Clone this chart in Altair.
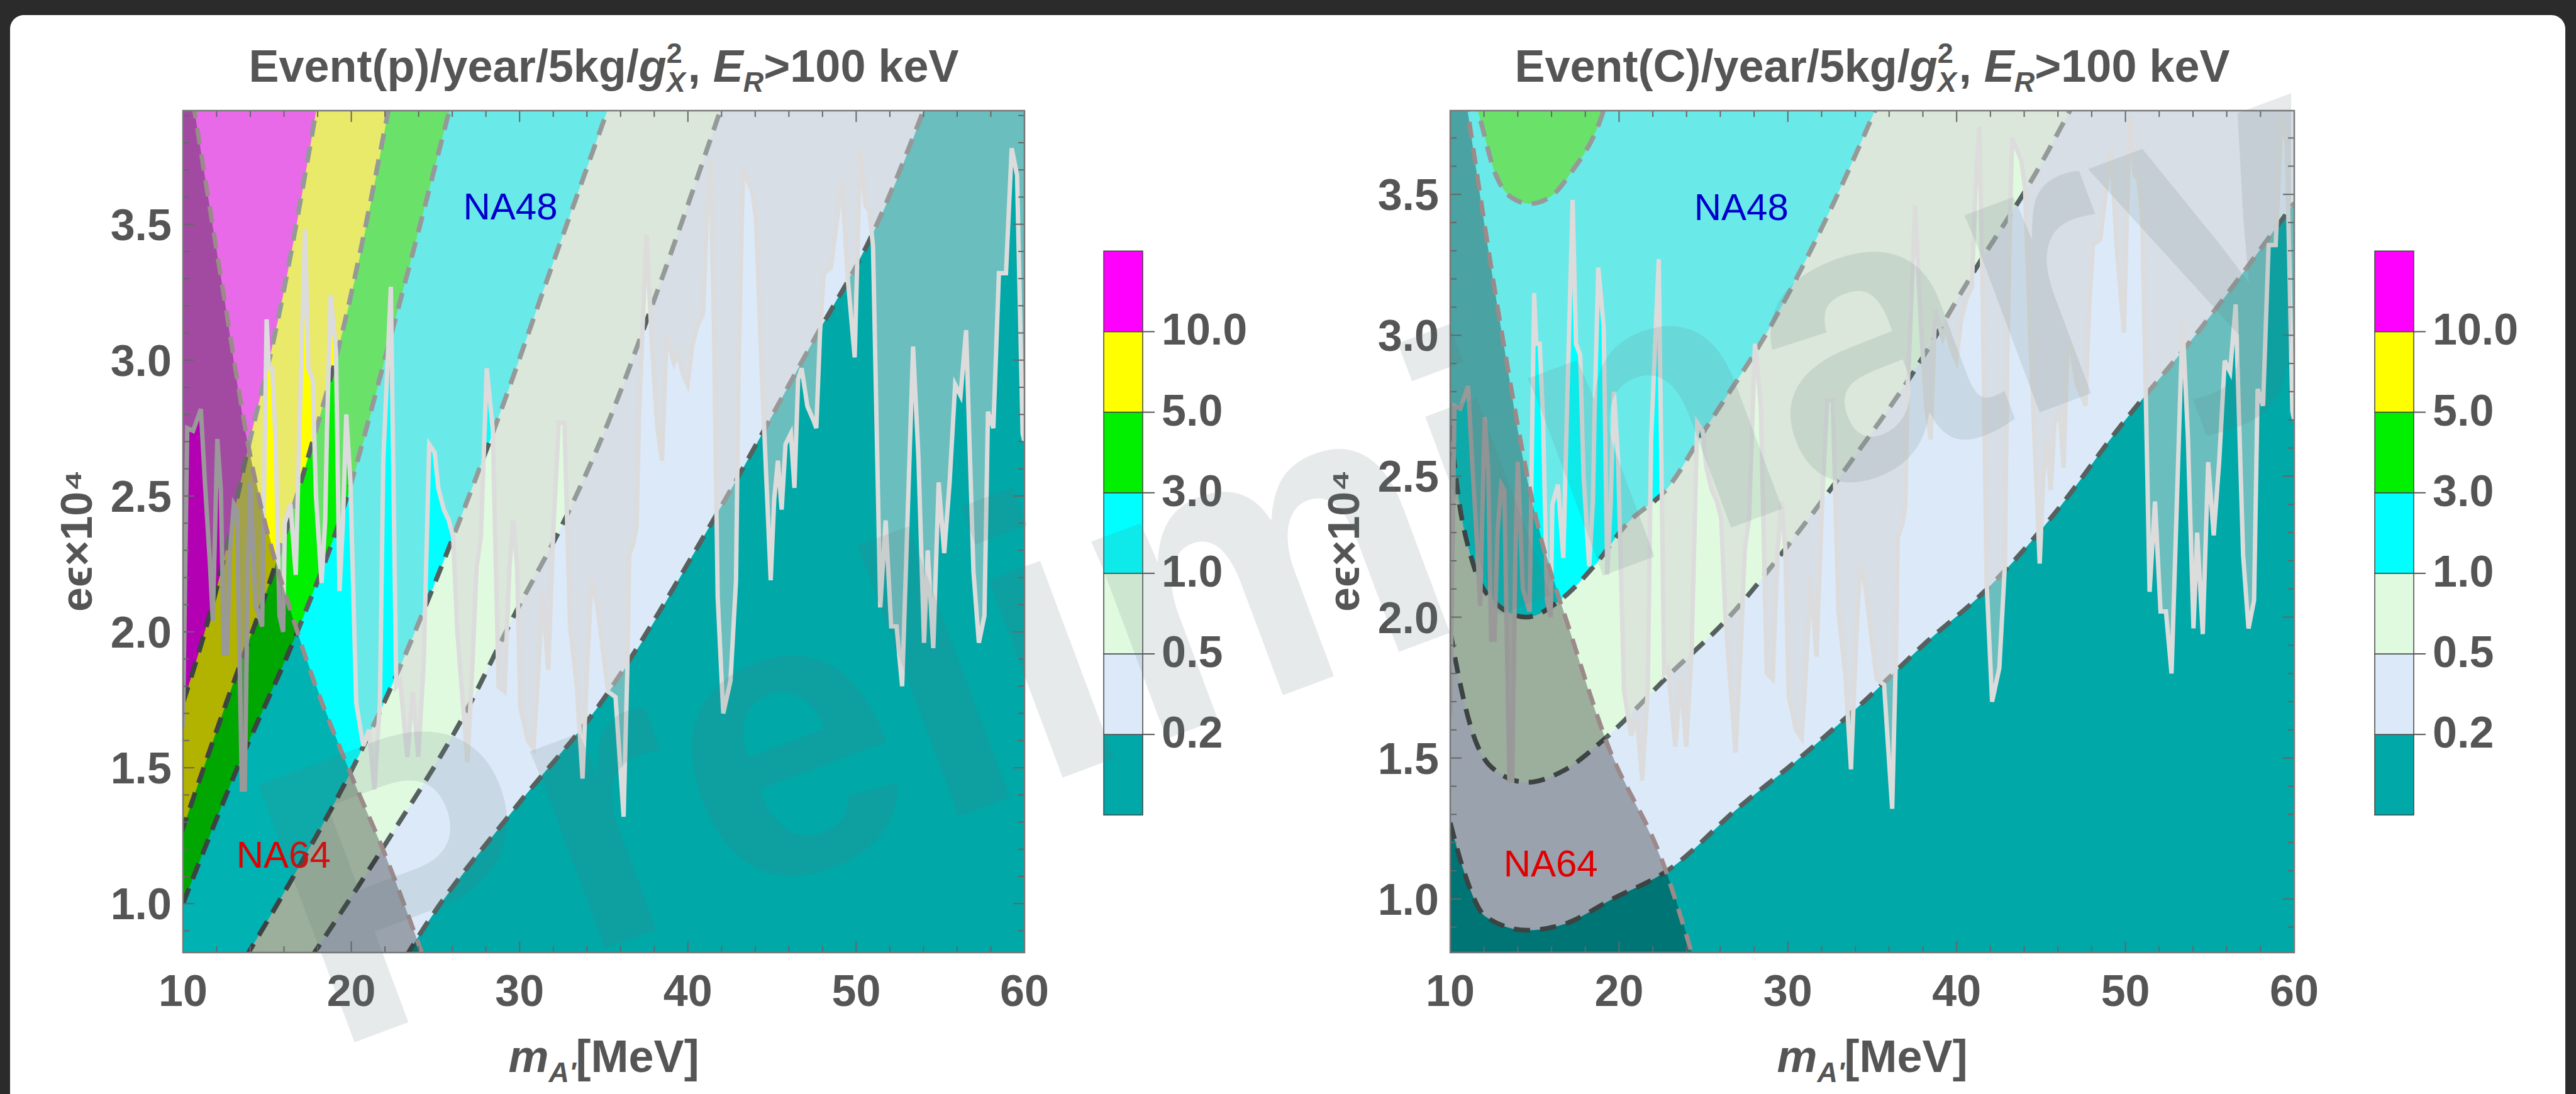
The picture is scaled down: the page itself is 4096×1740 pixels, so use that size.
import altair as alt
import pandas as pd

FONT = "Liberation Sans"
TXT = "#555555"
TICK = "#666666"
CONTOUR = "#56605F"

# ---------------- axes ----------------
X_RANGE = [10, 60]
Y_RANGE_P = [0.82, 3.918]
Y_RANGE_C = [0.81, 3.797]
X_MAJOR = [10, 20, 30, 40, 50, 60]
X_LABELS = ["10", "20", "30", "40", "50", "60"]
X_MINOR = [12, 14, 16, 18, 22, 24, 26, 28, 32, 34, 36, 38, 42, 44, 46, 48, 52, 54, 56, 58]
Y_MAJOR = [1.0, 1.5, 2.0, 2.5, 3.0, 3.5]
Y_LABELS = ["1.0", "1.5", "2.0", "2.5", "3.0", "3.5"]
Y_MINOR = [0.9, 1.1, 1.2, 1.3, 1.4, 1.6, 1.7, 1.8, 1.9, 2.1, 2.2, 2.3, 2.4,
           2.6, 2.7, 2.8, 2.9, 3.1, 3.2, 3.3, 3.4, 3.6, 3.7, 3.8, 3.9]

# ---------------- colour bar ----------------
LEVEL_LABELS = ["0.2", "0.5", "1.0", "3.0", "5.0", "10.0"]
LEVEL_POS = [1, 2, 3, 4, 5, 6]
BAND_INDEX = [0, 1, 2, 3, 4, 5, 6]
BAND_COLORS = ["#00A8A8", "#DCE9F8", "#E0FAE0", "#00FFFF", "#00F000", "#FFFF00", "#FF00FF"]

# ---------------- Event(p): contour lines (x = m_A' [MeV], y = e eps x 1e4) ----------------
P_C02 = [(23.2, 0.80), (24.08, 0.888), (29.84, 1.36), (34.61, 1.72), (41.12, 2.37),
         (47.63, 3.09), (50.78, 3.44), (54.2, 3.95)]
P_C05 = [(17.6, 0.80), (22.24, 1.24), (26.58, 1.68), (29.84, 2.08), (32.66, 2.41),
         (35.26, 2.77), (37.87, 3.20), (42.1, 3.95)]
P_C1 = [(13.7, 0.80), (16.93, 1.14), (19.93, 1.48), (22.24, 1.78), (25.93, 2.33),
        (28.75, 2.79), (32.0, 3.36), (35.4, 3.95)]
P_C3 = [(10.0, 1.00), (13.1, 1.48), (16.92, 2.02), (19.2, 2.39), (22.57, 3.14), (25.95, 3.95)]
P_C5 = [(9.9, 1.26), (12.58, 1.74), (15.3, 2.21), (17.47, 2.65), (19.42, 3.09), (22.3, 3.95)]
P_C10 = [(10.0, 1.74), (10.52, 1.84), (12.04, 2.17), (13.99, 2.71), (15.3, 3.05), (18.0, 3.95)]
P_NA64 = [(10.6, 3.95), (12.37, 3.26), (13.99, 2.65), (16.93, 1.974), (19.93, 1.482),
          (21.98, 1.184), (24.3, 0.80)]
P_LABEL_NA48 = (29.45, 3.56)
P_LABEL_NA64 = (15.97, 1.175)

# ---------------- Event(C): contour lines ----------------
C_C02 = [(10.0, 1.27), (10.8, 1.10), (12.1, 0.937), (14.52, 0.889), (16.76, 0.911),
         (19.55, 0.998), (22.97, 1.105), (27.0, 1.32), (30.5, 1.49), (34.5, 1.70),
         (38.0, 1.90), (41.8, 2.10), (45.7, 2.36), (49.6, 2.67), (54.4, 3.02), (60.0, 3.47)]
C_C05 = [(10.0, 1.95), (10.43, 1.81), (11.17, 1.62), (12.47, 1.466), (14.52, 1.414),
         (16.76, 1.457), (19.18, 1.57), (22.97, 1.795), (26.59, 2.005), (30.21, 2.27),
         (33.83, 2.56), (37.45, 2.87), (41.06, 3.23), (44.68, 3.575), (47.0, 3.83)]
C_C1 = [(10.0, 2.68), (10.5, 2.42), (11.3, 2.20), (12.5, 2.06), (14.5, 2.00), (16.5, 2.06),
        (18.5, 2.18), (20.45, 2.33), (22.9, 2.46), (25.14, 2.67), (29.05, 3.04),
        (32.0, 3.38), (35.4, 3.83)]
C_C3 = [(11.3, 3.85), (11.62, 3.797), (12.66, 3.575), (13.6, 3.49), (14.7, 3.467),
        (15.9, 3.49), (17.13, 3.575), (19.08, 3.797), (19.3, 3.84)]
C_NA64 = [(10.9, 3.85), (13.05, 3.01), (15.09, 2.35), (17.2, 1.93), (19.18, 1.57),
          (22.71, 1.11), (24.45, 0.78)]
C_LABEL_NA48 = (27.24, 3.45)
C_LABEL_NA64 = (15.95, 1.12)

# ---------------- NA48 limit (same curve in both panels) ----------------
NA48 = [(10.0, 1.65), (10.25, 2.75), (10.6, 2.74), (11.06, 2.82), (11.3, 2.55), (11.6, 2.25),
        (11.77, 2.04), (12.04, 2.71), (12.25, 2.52), (12.42, 1.92), (12.62, 1.92), (12.8, 2.30),
        (13.02, 2.47), (13.2, 2.45), (13.5, 1.42), (13.67, 1.42), (13.85, 2.20), (14.0, 2.55),
        (14.3, 2.10), (14.7, 2.02), (14.97, 3.15), (15.1, 2.97), (15.3, 2.97), (15.5, 2.70),
        (15.73, 2.06), (15.95, 2.00), (16.05, 2.40), (16.38, 2.47), (16.7, 2.21), (16.9, 2.70),
        (17.25, 3.48), (17.45, 2.97), (17.7, 2.93), (17.9, 2.50), (18.23, 2.18), (18.45, 2.41),
        (18.55, 2.73), (18.77, 3.24), (19.09, 3.03), (19.3, 2.15), (19.5, 2.40), (19.7, 2.80),
        (19.95, 2.55), (20.29, 1.74), (20.5, 1.66), (20.72, 1.58), (21.05, 1.64), (21.37, 1.42),
        (21.7, 1.74), (21.9, 2.63), (22.35, 3.27), (22.67, 1.80), (22.9, 1.82), (23.33, 1.54),
        (23.65, 1.78), (23.98, 1.54), (24.3, 1.88), (24.63, 2.69), (24.95, 2.66), (25.17, 2.53),
        (25.5, 2.45), (25.8, 2.41), (26.05, 2.35), (26.3, 2.00), (26.9, 1.52), (27.2, 1.88),
        (27.45, 2.24), (27.7, 2.35), (28.05, 2.97), (28.4, 2.75), (28.75, 1.80), (29.1, 1.78),
        (29.4, 2.24), (29.62, 2.41), (29.85, 2.24), (30.05, 1.72), (30.49, 1.60), (30.82, 1.57),
        (31.1, 1.84), (31.35, 2.14), (31.7, 1.86), (32.0, 2.37), (32.33, 2.77), (32.66, 2.77),
        (33.0, 2.02), (33.4, 1.80), (33.74, 1.46), (34.06, 1.94), (34.28, 2.19), (34.61, 2.10),
        (35.26, 1.78), (35.7, 1.76), (36.18, 1.32), (36.4, 1.86), (36.51, 2.28), (36.78, 2.33),
        (36.95, 2.39), (37.1, 2.81), (37.54, 3.46), (37.87, 3.05), (38.19, 2.75), (38.46, 2.63),
        (38.73, 3.09), (39.17, 2.99), (39.4, 3.03), (39.7, 2.95), (39.98, 2.91), (40.25, 3.05),
        (40.58, 3.13), (40.9, 3.17), (41.12, 3.52), (41.34, 3.74), (41.55, 3.12), (41.77, 2.13),
        (42.1, 1.70), (42.53, 1.82), (42.86, 2.19), (43.0, 2.93), (43.18, 3.46), (43.29, 3.70),
        (43.83, 3.62), (44.05, 3.52), (44.38, 2.97), (44.6, 2.65), (44.92, 2.19), (45.13, 2.49),
        (45.35, 2.63), (45.57, 2.45), (45.8, 2.69), (46.12, 2.73), (46.33, 2.53), (46.55, 2.93),
        (46.76, 2.97), (47.1, 2.83), (47.45, 2.78), (47.63, 2.75), (47.85, 3.10), (48.07, 3.32),
        (48.5, 3.34), (49.15, 3.66), (49.5, 3.30), (49.91, 3.01), (50.24, 3.78), (50.55, 3.57),
        (50.78, 3.55), (51.0, 3.42), (51.43, 2.09), (51.75, 2.41), (52.08, 2.02), (52.4, 2.02),
        (52.73, 1.80), (53.38, 3.05), (53.7, 2.64), (54.03, 1.96), (54.25, 2.30), (54.58, 1.94),
        (54.9, 2.55), (55.23, 2.29), (55.55, 2.55), (55.88, 2.91), (56.2, 2.87), (56.53, 3.11),
        (56.97, 2.22), (57.29, 1.96), (57.62, 2.06), (57.83, 2.81), (58.15, 2.75), (58.48, 3.32),
        (58.9, 3.32), (59.24, 3.78), (59.56, 3.68), (59.89, 2.73), (60.0, 2.70)]

TITLE_P = "Event(p)/year/5kg/"
TITLE_C = "Event(C)/year/5kg/"
Y_TITLE = "e\u03f5\u00d710\u2074"
WATERMARK = "Preliminary"

# ---------------- layout (pixels) ----------------
ORIGIN_X, ORIGIN_Y = 291, 176
PAGE_W, PAGE_H = 4096, 1740
PANEL_W_P, PANEL_W_C, PANEL_H = 1338, 1342, 1339
CB_W1, CB_W2 = 677, 400
FS = 70          # tick label size
FT = 72          # title size
FSUB = 45

AW = {'E': .667, 'v': .556, 'e': .556, 'n': .611, 't': .333, '(': .333, 'p': .611, ')': .333,
      '/': .278, 'y': .556, 'a': .556, 'r': .389, '5': .556, 'k': .556, 'g': .611, 'C': .722,
      'X': .667, '2': .556, ',': .278, ' ': .278, 'R': .722, '>': .584, '1': .556, '0': .556,
      'V': .667, 'm': .889, 'A': .722, "'": .238, '[': .333, 'M': .833, ']': .333}


def tw(s, size):
    return sum(AW[c] for c in s) * size


def one():
    return alt.Data(values=[{}])


def rich(segments, cx, base):
    total = sum(adv if adv is not None else tw(t, s) for t, s, it, dy, adv in segments)
    x = cx - total / 2
    out = []
    for t, s, it, dy, adv in segments:
        out.append(alt.Chart(one()).mark_text(
            text=t, font=FONT, fontSize=s, fontWeight="bold",
            fontStyle="italic" if it else "normal", color=TXT,
            align="left", baseline="alphabetic").encode(
            x=alt.value(x), y=alt.value(base + dy)))
        x += adv if adv is not None else tw(t, s)
    return out


def panel(ydom, W, contours, orient, na64, lab48, lab64, title_a, first=False, watermark=False):
    H = PANEL_H
    xs = alt.Scale(domain=X_RANGE, nice=False, zero=False)
    ys = alt.Scale(domain=ydom, nice=False, zero=False)

    def NX(f):
        return alt.X(f, scale=xs, axis=None)

    def NY(f):
        return alt.Y(f, scale=ys, axis=None)

    L = []
    if first:
        # page: dark screen border with white slide area
        L.append(alt.Chart(one()).mark_rect(color="#2B2B2B").encode(
            x=alt.value(-ORIGIN_X), x2=alt.value(PAGE_W - ORIGIN_X),
            y=alt.value(-ORIGIN_Y), y2=alt.value(PAGE_H - ORIGIN_Y)))
        L.append(alt.Chart(one()).mark_rect(color="#FFFFFF", cornerRadiusTopLeft=22,
                                            cornerRadiusTopRight=22).encode(
            x=alt.value(16 - ORIGIN_X), x2=alt.value(4079 - ORIGIN_X),
            y=alt.value(24 - ORIGIN_Y), y2=alt.value(PAGE_H - ORIGIN_Y)))

    box = pd.DataFrame({"x0": [X_RANGE[0]], "x1": [X_RANGE[1]], "y0": [ydom[0]], "y1": [ydom[1]]})
    L.append(alt.Chart(box).mark_rect(color=BAND_COLORS[0]).encode(
        x=NX("x0:Q"), x2="x1:Q", y=NY("y0:Q"), y2="y1:Q"))

    # filled bands (painter's order, lowest level first)
    for i, pts in enumerate(contours):
        d = pd.DataFrame(pts, columns=["x", "y"])
        if orient == "h":
            d = d.sort_values("y")
            d["x0"] = X_RANGE[0]
            L.append(alt.Chart(d).mark_area(orient="horizontal", color=BAND_COLORS[i + 1],
                                            interpolate="monotone", clip=True).encode(
                y=NY("y:Q"), x=NX("x:Q"), x2="x0:Q"))
        else:
            d["top"] = ydom[1]
            L.append(alt.Chart(d).mark_area(color=BAND_COLORS[i + 1], interpolate="monotone",
                                            clip=True).encode(
                x=NX("x:Q"), y=NY("y:Q"), y2="top:Q"))
    # contour lines
    for pts in contours:
        d = pd.DataFrame(pts, columns=["x", "y"])
        L.append(alt.Chart(d).mark_line(color=CONTOUR, strokeWidth=7.5, strokeDash=[26, 16],
                                        interpolate="monotone", clip=True).encode(
            x=NX("x:Q"), y=NY("y:Q")))

    # NA48 excluded region
    d48 = pd.DataFrame(NA48, columns=["x", "y"])
    d48["top"] = ydom[1]
    L.append(alt.Chart(d48).mark_area(color="#D4D4D4", opacity=0.5, clip=True).encode(
        x=NX("x:Q"), y=NY("y:Q"), y2="top:Q"))
    L.append(alt.Chart(d48).mark_line(color="#DCDCDC", strokeWidth=7, clip=True).encode(
        x=NX("x:Q"), y=NY("y:Q")))

    # NA64 excluded region
    d64 = pd.DataFrame(na64, columns=["x", "y"]).sort_values("y")
    d64["x0"] = X_RANGE[0]
    L.append(alt.Chart(d64).mark_area(orient="horizontal", color="#000000", opacity=0.3,
                                      interpolate="monotone", clip=True).encode(
        y=NY("y:Q"), x=NX("x:Q"), x2="x0:Q"))
    L.append(alt.Chart(d64).mark_line(color="#9C8A8A", strokeWidth=7, strokeDash=[26, 16],
                                      interpolate="monotone", clip=True).encode(
        x=NX("x:Q"), y=NY("y:Q")))

    labs = pd.DataFrame({"x": [lab48[0], lab64[0]], "y": [lab48[1], lab64[1]],
                         "t": ["NA48", "NA64"], "c": ["#0000CC", "#E00000"]})
    L.append(alt.Chart(labs).mark_text(font=FONT, fontSize=60, align="center",
                                       baseline="middle").encode(
        x=NX("x:Q"), y=NY("y:Q"), text="t:N", color=alt.Color("c:N", scale=None)))

    # frame ticks (inward)
    for vals, ln in [(X_MAJOR, 18), (X_MINOR, 10)]:
        d = pd.DataFrame({"v": vals})
        L.append(alt.Chart(d).mark_rule(color=TICK, strokeWidth=2).encode(
            x=NX("v:Q"), y=alt.value(H), y2=alt.value(H - ln)))
        L.append(alt.Chart(d).mark_rule(color=TICK, strokeWidth=2).encode(
            x=NX("v:Q"), y=alt.value(0), y2=alt.value(ln)))
    for vals, ln in [(Y_MAJOR, 18), (Y_MINOR, 10)]:
        d = pd.DataFrame({"v": vals})
        L.append(alt.Chart(d).mark_rule(color=TICK, strokeWidth=2, clip=True).encode(
            y=NY("v:Q"), x=alt.value(0), x2=alt.value(ln)))
        L.append(alt.Chart(d).mark_rule(color=TICK, strokeWidth=2, clip=True).encode(
            y=NY("v:Q"), x=alt.value(W - ln), x2=alt.value(W)))
    L.append(alt.Chart(box).mark_rect(fill="transparent", stroke="#777777", strokeWidth=2.5).encode(
        x=NX("x0:Q"), x2="x1:Q", y=NY("y0:Q"), y2="y1:Q"))

    # tick labels
    xl = pd.DataFrame({"v": X_MAJOR, "t": X_LABELS})
    L.append(alt.Chart(xl).mark_text(font=FONT, fontSize=FS, fontWeight="bold", color=TXT,
                                     align="center", baseline="alphabetic").encode(
        x=NX("v:Q"), y=alt.value(H + 85), text="t:N"))
    yl = pd.DataFrame({"v": Y_MAJOR, "t": Y_LABELS})
    L.append(alt.Chart(yl).mark_text(font=FONT, fontSize=FS, fontWeight="bold", color=TXT,
                                     align="right", baseline="alphabetic", dy=25).encode(
        y=NY("v:Q"), x=alt.value(-18), text="t:N"))

    # titles
    L += rich([(title_a, FT, False, 0, None), ("g", FT, True, 0, None),
               ("2", FSUB, False, -30, 0), ("X", FSUB, True, 16, tw("X", FSUB) + 4),
               (", ", FT, False, 0, None), ("E", FT, True, 0, None),
               ("R", FSUB, True, 16, None), (">100 keV", FT, False, 0, None)],
              W / 2, -46)
    L += rich([("m", FT, True, 0, None), ("A'", FSUB, True, 16, None),
               ("[MeV]", FT, False, 0, None)], W / 2, H + 190)
    L.append(alt.Chart(one()).mark_text(
        text=Y_TITLE, font=FONT, fontSize=FS, fontWeight="bold", color=TXT, angle=270,
        align="center", baseline="alphabetic").encode(x=alt.value(-145), y=alt.value(684)))

    if watermark:
        L.append(alt.Chart(one()).mark_text(
            text=WATERMARK, font=FONT, fontSize=635, fontWeight="bold", angle=339.5,
            align="center", baseline="middle", color="#5F7A7A", opacity=0.15).encode(
            x=alt.value(-229), y=alt.value(712)))
    return alt.layer(*L).properties(width=W, height=H)


def colorbar(bx, W):
    cbs = alt.Scale(domain=[-1.707, 8.743], nice=False, zero=False)
    d = pd.DataFrame({"lo": BAND_INDEX, "c": BAND_COLORS})
    d["hi"] = d["lo"] + 1
    L = [alt.Chart(d).mark_rect(stroke="#444444", strokeWidth=1.5).encode(
        x=alt.value(bx), x2=alt.value(bx + 62),
        y=alt.Y("lo:Q", scale=cbs, axis=None), y2="hi:Q",
        color=alt.Color("c:N", scale=None))]
    lab = pd.DataFrame({"b": LEVEL_POS, "t": LEVEL_LABELS})
    L.append(alt.Chart(lab).mark_rule(color="#555555", strokeWidth=2).encode(
        y=alt.Y("b:Q", scale=cbs, axis=None), x=alt.value(bx + 62), x2=alt.value(bx + 81)))
    L.append(alt.Chart(lab).mark_text(font=FONT, fontSize=FS, fontWeight="bold", color=TXT,
                                      align="left", baseline="middle").encode(
        y=alt.Y("b:Q", scale=cbs, axis=None), x=alt.value(bx + 92), text="t:N"))
    return alt.layer(*L).properties(width=W, height=PANEL_H)


left = panel(Y_RANGE_P, PANEL_W_P, [P_C02, P_C05, P_C1, P_C3, P_C5, P_C10], "h",
             P_NA64, P_LABEL_NA48, P_LABEL_NA64, TITLE_P, first=True)
right = panel(Y_RANGE_C, PANEL_W_C, [C_C02, C_C05, C_C1, C_C3], "v",
              C_NA64, C_LABEL_NA48, C_LABEL_NA64, TITLE_C, watermark=True)

# fixed-size page: svg = padding + (zero-width) concat, height = panel height + padding
chart = alt.hconcat(left, colorbar(126, CB_W1), right, colorbar(128, CB_W2),
                    spacing=0, bounds="flush").properties(
    autosize=alt.AutoSizeParams(type="none"),
    padding={"left": ORIGIN_X, "top": ORIGIN_Y, "right": PAGE_W - ORIGIN_X,
             "bottom": PAGE_H - ORIGIN_Y - PANEL_H},
    background="#2B2B2B",
).configure_view(strokeWidth=0)

chart.save("out.html", embed_options={"renderer": "svg", "actions": False})
